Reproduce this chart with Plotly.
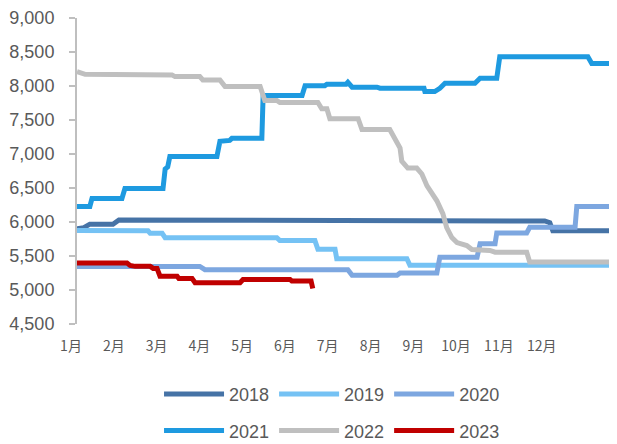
import plotly.graph_objects as go

# x in month units (0 = start of 1月)
months = ["1月", "2月", "3月", "4月", "5月", "6月", "7月", "8月", "9月", "10月", "11月", "12月"]
y_ticks = [4500, 5000, 5500, 6000, 6500, 7000, 7500, 8000, 8500, 9000]

x2018 = [0, 0.16, 0.30, 0.84, 0.98, 5.21, 9.25, 9.37, 10.93, 11.05, 11.12, 12.62]
y2018 = [5900, 5917, 5968, 5968, 6030, 6030, 6030, 6015, 6015, 5990, 5870, 5870]

x2019 = [0, 1.66, 1.71, 1.99, 2.06, 4.67, 4.74, 5.56, 5.63, 6.03, 6.07, 7.71, 7.78, 12.62]
y2019 = [5875, 5870, 5834, 5834, 5770, 5770, 5727, 5727, 5600, 5600, 5460, 5460, 5365, 5365]

x2020 = [0, 2.87, 2.99, 6.33, 6.43, 7.48, 7.55, 8.41, 8.48, 9.35, 9.42, 9.77, 9.81,
         10.51, 10.58, 11.64, 11.68, 12.62]
y2020 = [5347, 5347, 5299, 5299, 5216, 5216, 5249, 5249, 5483, 5483, 5679, 5679, 5840,
         5840, 5922, 5922, 6228, 6228]

x2021 = [0, 0.30, 0.35, 1.05, 1.12, 2.01, 2.06, 2.12, 2.17, 3.27, 3.34, 3.57, 3.62,
         4.32, 4.35, 5.26, 5.33, 5.79, 5.84, 6.29, 6.33, 6.43, 7.01, 7.08, 8.11, 8.13,
         8.36, 8.48, 8.60, 9.30, 9.42, 9.81, 9.88, 11.94, 12.03, 12.57, 12.62]
y2021 = [6228, 6228, 6345, 6345, 6491, 6491, 6780, 6810, 6965, 6965, 7188, 7200, 7230,
         7230, 7860, 7860, 8002, 8002, 8026, 8026, 8055, 7982, 7982, 7967, 7967, 7919,
         7919, 7967, 8040, 8040, 8113, 8113, 8430, 8430, 8332, 8332, 8200]

x2022 = [0, 0.19, 2.22, 2.29, 2.87, 2.94, 3.34, 3.46, 4.28, 4.39, 4.67, 4.74, 5.63,
         5.72, 5.84, 5.91, 6.57, 6.66, 7.31, 7.43, 7.55, 7.59, 7.73, 7.94, 8.06, 8.18,
         8.32, 8.41, 8.55, 8.64, 8.76, 8.88, 9.11, 9.23, 9.65, 9.77, 10.51, 10.58, 12.62]
y2022 = [8211, 8172, 8163, 8138, 8138, 8090, 8090, 7992, 7992, 7787, 7787, 7758, 7758,
         7666, 7666, 7520, 7520, 7359, 7359, 7232, 7086, 6896, 6794, 6794, 6706, 6531,
         6414, 6312, 6122, 5917, 5771, 5698, 5654, 5596, 5581, 5556, 5556, 5410, 5410]

x2023 = [0, 1.17, 1.24, 1.36, 1.71, 1.78, 1.87, 1.94, 2.34, 2.38, 2.69, 2.76, 3.81,
         3.88, 4.98, 5.02, 5.47, 5.51]
y2023 = [5396, 5396, 5362, 5348, 5348, 5318, 5318, 5202, 5202, 5168, 5168, 5106, 5106,
         5153, 5153, 5133, 5133, 5022]

series = [
    ("2018", x2018, y2018, "#4673A6", "legend"),
    ("2019", x2019, y2019, "#75C2F4", "legend"),
    ("2020", x2020, y2020, "#7DA7E0", "legend"),
    ("2021", x2021, y2021, "#1E9AE0", "legend2"),
    ("2022", x2022, y2022, "#BFBFBF", "legend2"),
    ("2023", x2023, y2023, "#C00000", "legend2"),
]

fig = go.Figure()
for name, xs, ys, color, lg in series:
    fig.add_trace(go.Scatter(x=xs, y=ys, name=name, mode="lines",
                             line=dict(color=color, width=5),
                             legend=lg))

legend_style = dict(orientation="h", xanchor="left", yanchor="middle",
                    xref="container", yref="container", itemwidth=60,
                    font=dict(family="Liberation Sans, Arial", size=18, color="#595959"),
                    bgcolor="rgba(0,0,0,0)")

# page body has an 8px margin, so the figure is a bit smaller than the window
fig.update_layout(
    width=609, height=436,
    margin=dict(l=69, r=0, t=10, b=120, autoexpand=False),
    plot_bgcolor="white", paper_bgcolor="white",
    showlegend=True,
    legend=dict(x=0.248, y=0.114, **legend_style),
    legend2=dict(x=0.248, y=0.03, **legend_style),
    xaxis=dict(range=[0, 12.62], tickvals=list(range(12)), ticktext=months,
               showgrid=False, zeroline=False, showline=False, ticks="",
               ticklabelshift=-6, ticklabelstandoff=12,
               tickfont=dict(family="Noto Sans CJK SC", size=14, color="#595959")),
    yaxis=dict(range=[4500, 9000], tickvals=y_ticks, tickformat=",",
               showgrid=False, zeroline=False, showline=True, linecolor="#BFBFBF",
               linewidth=2, ticks="outside", ticklen=6, tickcolor="#BFBFBF",
               tickwidth=2, ticklabelstandoff=11, ticklabeloverflow="allow",
               tickfont=dict(family="Liberation Sans, Arial", size=18, color="#595959")),
)

fig.write_html("out.html")
